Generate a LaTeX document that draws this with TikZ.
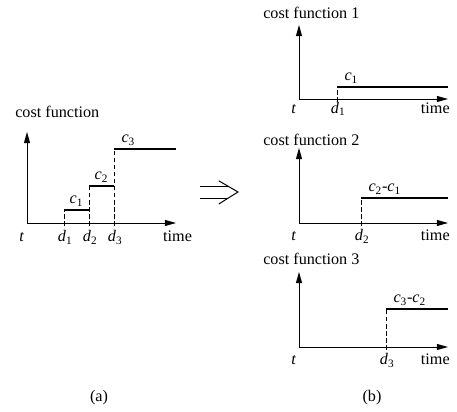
\documentclass[tikz,border=0pt]{standalone}
\usepackage{fontspec}
\setmainfont{Liberation Serif}
\usetikzlibrary{arrows.meta,calc}
\tikzset{
  axis/.style={-{Triangle[length=8pt,width=4.3pt]}, line width=0.7pt},
  guide/.style={dash pattern=on 3pt off 2pt, line width=0.6pt},
  costline/.style={line width=2pt},
  txt/.style={font=\fontsize{11.5}{13.8}\selectfont, inner sep=0pt},
  steplabel/.style={txt, inner sep=1.5pt},
  implies/.style={line width=0.7pt}
}
% italic letter with upright subscript
\newcommand{\ix}[2]{\textit{#1}\textsubscript{#2}}
% one pair of axes: name, origin, height, drop of the labels under the axis
\newcommand{\costaxes}[4]{
  \coordinate (#1o) at #2;
  \coordinate (#1top) at ($(#1o)+(0,#3)$);
  \coordinate (#1end) at ($(#1o)+(3.725,0)$);
  \draw[axis] (#1o) -- (#1top);
  \draw[axis] (#1o) -- (#1end);
  \node[txt, anchor=base] (#1t) at ($(#1o)+(-0.13,-#4)$) {\textit{t}};
}

\begin{document}
\begin{tikzpicture}
\useasboundingbox (0,0) rectangle (11.425,10.3);

% (a) the whole cost function
\costaxes{a}{(0.675,4.725)}{2.275}{0.475}
\node[txt, anchor=base west] (atitle) at (0.375,7.35) {cost function};
\node[txt, anchor=base] (atime) at (4.44,4.25) {time};
\coordinate (ad1) at (1.6,4.66);
\coordinate (ad2) at (2.225,4.66);
\coordinate (ad3) at (2.85,4.66);
\coordinate (ac1) at (1.6,5.05);
\coordinate (ac1e) at (2.225,5.05);
\coordinate (ac2) at (2.225,5.65);
\coordinate (ac2e) at (2.85,5.65);
\coordinate (ac3) at (2.85,6.575);
\coordinate (ac3e) at (4.4,6.575);
\draw[guide] (ad1) -- (ac1);
\draw[guide] (ad2) -- (ac2);
\draw[guide] (ad3) -- (ac3);
\draw[costline] (ac1) -- (ac1e) node[steplabel, midway, above] (alc1) {\ix{c}{1}};
\draw[costline] (ac2) -- (ac2e) node[steplabel, midway, above] (alc2) {\ix{c}{2}};
\draw[costline] (ac3) -- (ac3e) node[steplabel, pos=0, anchor=south west, xshift=0.1cm] (alc3) {\ix{c}{3}};
\node[txt, anchor=base] (ald1) at (1.63,4.25) {\ix{d}{1}};
\node[txt, anchor=base] (ald2) at (2.255,4.25) {\ix{d}{2}};
\node[txt, anchor=base] (ald3) at (2.88,4.25) {\ix{d}{3}};
\node[txt, anchor=base] (acap) at (2.475,0.25) {(a)};

% split into three parts
\coordinate (impa) at (5.0,5.65);
\coordinate (impb) at (5.0,5.35);
\coordinate (impc) at (5.69,5.65);
\coordinate (impd) at (5.69,5.35);
\coordinate (imptip) at (5.95,5.5);
\draw[implies] (impa) -- (impc);
\draw[implies] (impb) -- (impd);
\draw[implies] (5.47,5.78) -- (imptip) -- (5.47,5.2);

% (b) part 1
\costaxes{p}{(7.475,7.825)}{1.85}{0.36}
\node[txt, anchor=base west] (ptitle) at (6.575,9.825) {cost function 1};
\node[txt, anchor=base east] (ptime) at (11.25,7.465) {time};
\coordinate (pd) at (8.425,7.76);
\coordinate (pc) at (8.425,8.125);
\coordinate (pce) at (11.2,8.125);
\draw[guide] (pd) -- (pc);
\draw[costline] (pc) -- (pce) node[steplabel, pos=0, anchor=south west, xshift=0.1cm] (plc) {\ix{c}{1}};
\node[txt, anchor=base] (pld) at (8.455,7.465) {\ix{d}{1}};

% (b) part 2
\costaxes{q}{(7.475,4.725)}{1.875}{0.44}
\node[txt, anchor=base west] (qtitle) at (6.575,6.65) {cost function 2};
\node[txt, anchor=base east] (qtime) at (11.25,4.285) {time};
\coordinate (qd) at (9.025,4.66);
\coordinate (qc) at (9.025,5.35);
\coordinate (qce) at (11.2,5.35);
\draw[guide] (qd) -- (qc);
\draw[costline] (qc) -- (qce) node[steplabel, pos=0, anchor=south west, xshift=0.1cm] (qlc) {\ix{c}{2}-\ix{c}{1}};
\node[txt, anchor=base] (qld) at (9.055,4.285) {\ix{d}{2}};

% (b) part 3
\costaxes{r}{(7.475,1.625)}{1.875}{0.44}
\node[txt, anchor=base west] (rtitle) at (6.575,3.675) {cost function 3};
\node[txt, anchor=base east] (rtime) at (11.25,1.185) {time};
\coordinate (rd) at (9.65,1.56);
\coordinate (rc) at (9.65,2.575);
\coordinate (rce) at (11.2,2.575);
\draw[guide] (rd) -- (rc);
\draw[costline] (rc) -- (rce) node[steplabel, pos=0, anchor=south west, xshift=0.1cm] (rlc) {\ix{c}{3}-\ix{c}{2}};
\node[txt, anchor=base] (rld) at (9.68,1.185) {\ix{d}{3}};
\node[txt, anchor=base] (bcap) at (9.3,0.25) {(b)};
\end{tikzpicture}
\end{document}
